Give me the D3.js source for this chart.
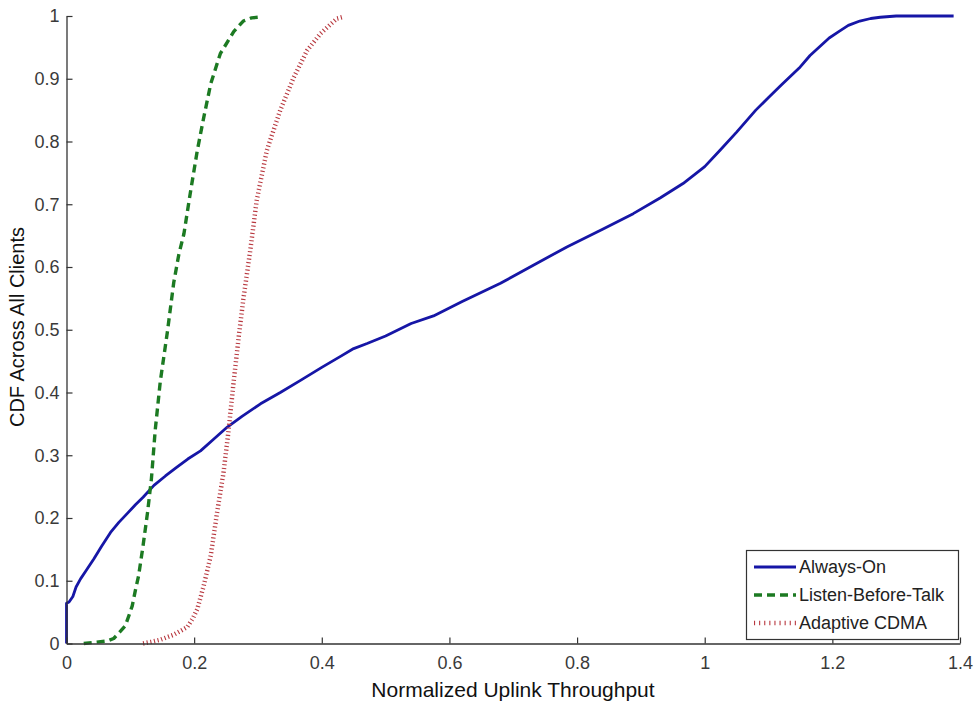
<!DOCTYPE html>
<html>
<head>
<meta charset="utf-8">
<script src="https://cdn.jsdelivr.net/npm/d3@7"></script>
<style>
  html, body { margin: 0; padding: 0; background: #fff; }
  svg { display: block; font-family: "Liberation Sans", Arial, sans-serif; }
</style>
</head>
<body>
<svg id="chart" width="974" height="702"></svg>
<script>
// CDF of normalized uplink throughput, one curve per scheme: [throughput, cdf]
const alwaysOn = [
  [0,0],[0,0.064],[0.004,0.066],[0.01,0.075],[0.015,0.09],[0.022,0.103],[0.03,0.115],
  [0.043,0.135],[0.055,0.155],[0.069,0.177],[0.082,0.193],[0.095,0.207],[0.108,0.221],
  [0.12,0.233],[0.137,0.252],[0.155,0.267],[0.173,0.281],[0.19,0.294],[0.21,0.307],
  [0.23,0.325],[0.252,0.345],[0.275,0.362],[0.304,0.382],[0.335,0.400],[0.366,0.419],
  [0.40,0.44],[0.43,0.458],[0.45,0.47],[0.471,0.478],[0.50,0.49],[0.54,0.51],[0.575,0.522],
  [0.62,0.545],[0.68,0.574],[0.73,0.602],[0.784,0.632],[0.84,0.66],[0.888,0.685],
  [0.93,0.71],[0.966,0.733],[1.0,0.76],[1.024,0.786],[1.05,0.815],[1.08,0.85],[1.1,0.87],
  [1.12,0.89],[1.148,0.917],[1.165,0.937],[1.18,0.951],[1.195,0.965],[1.21,0.975],
  [1.225,0.985],[1.243,0.992],[1.26,0.996],[1.275,0.998],[1.3,1.0],[1.39,1.0]
];
const listenBeforeTalk = [
  [0.027,0],[0.045,0.002],[0.064,0.004],[0.074,0.008],[0.085,0.02],[0.092,0.028],
  [0.098,0.045],[0.103,0.06],[0.108,0.085],[0.113,0.108],[0.12,0.156],[0.127,0.209],
  [0.133,0.262],[0.139,0.34],[0.147,0.418],[0.158,0.496],[0.168,0.575],[0.176,0.62],
  [0.184,0.653],[0.194,0.718],[0.205,0.786],[0.215,0.838],[0.226,0.892],[0.241,0.94],
  [0.262,0.975],[0.277,0.992],[0.29,0.997],[0.30,0.998]
];
const adaptiveCdma = [
  [0.12,0],[0.135,0.003],[0.147,0.006],[0.168,0.014],[0.189,0.026],[0.198,0.04],
  [0.205,0.055],[0.215,0.092],[0.226,0.14],[0.236,0.209],[0.246,0.272],[0.254,0.34],
  [0.262,0.418],[0.27,0.49],[0.277,0.548],[0.288,0.627],[0.298,0.706],[0.314,0.786],
  [0.335,0.85],[0.356,0.902],[0.377,0.945],[0.398,0.972],[0.415,0.988],[0.424,0.996],
  [0.435,0.999]
];

const seriesNames = ["Always-On", "Listen-Before-Talk", "Adaptive CDMA"];
const xTicks = [0, 0.2, 0.4, 0.6, 0.8, 1, 1.2, 1.4];
const yTicks = [0, 0.1, 0.2, 0.3, 0.4, 0.5, 0.6, 0.7, 0.8, 0.9, 1];
const xTitle = "Normalized Uplink Throughput";
const yTitle = "CDF Across All Clients";

const svg = d3.select("#chart");
const x = d3.scaleLinear().domain([0, 1.4]).range([66.5, 960]);
const y = d3.scaleLinear().domain([0, 1]).range([643.5, 16]);

const styles = [
  { data: alwaysOn, color: "#1616a6", width: 2.8, dash: null },
  { data: listenBeforeTalk, color: "#1c7a22", width: 3.4, dash: "8,5" },
  { data: adaptiveCdma, color: "#b8383f", width: 4.5, dash: "1.1,2.6" }
];

const line = d3.line().x(d => x(d[0])).y(d => y(d[1]));

// curves
styles.forEach(s => {
  svg.append("path")
    .datum(s.data)
    .attr("fill", "none")
    .attr("stroke", s.color)
    .attr("stroke-width", s.width)
    .attr("stroke-dasharray", s.dash)
    .attr("stroke-linejoin", "round")
    .attr("d", line);
});

// axes with inward ticks
const xAxis = d3.axisBottom(x).tickValues(xTicks).tickSizeInner(-6).tickSizeOuter(0)
  .tickPadding(13).tickFormat(d => d3.format("")(d));
const yAxis = d3.axisLeft(y).tickValues(yTicks).tickSizeInner(-6).tickSizeOuter(0)
  .tickPadding(7).tickFormat(d => d3.format("")(d));

const gx = svg.append("g").attr("transform", `translate(0,${y(0)})`).call(xAxis);
const gy = svg.append("g").attr("transform", `translate(${x(0)},0)`).call(yAxis);
[gx, gy].forEach(g => {
  g.select(".domain").attr("stroke", "#333").attr("stroke-width", 1.3);
  g.selectAll(".tick line").attr("stroke", "#333").attr("stroke-width", 1.2);
  g.selectAll(".tick text").attr("fill", "#3a3a3a").style("font-size", "18px")
    .style("font-family", "'Liberation Sans', Arial, sans-serif");
});

// axis titles
svg.append("text")
  .attr("x", 513).attr("y", 697)
  .attr("text-anchor", "middle")
  .style("font-size", "21px").attr("fill", "#111")
  .text(xTitle);
svg.append("text")
  .attr("transform", "translate(24,327) rotate(-90)")
  .attr("text-anchor", "middle")
  .style("font-size", "20px").attr("fill", "#111")
  .text(yTitle);

// legend
const lg = svg.append("g");
lg.append("rect")
  .attr("x", 746.5).attr("y", 550.5).attr("width", 212).attr("height", 89)
  .attr("fill", "#fff").attr("stroke", "#333").attr("stroke-width", 1.2);
seriesNames.forEach((name, i) => {
  const cy = 567 + i * 28;
  lg.append("line")
    .attr("x1", 754).attr("x2", 796).attr("y1", cy).attr("y2", cy)
    .attr("stroke", styles[i].color)
    .attr("stroke-width", i === 2 ? 4.5 : (i === 1 ? 3.5 : 2.8))
    .attr("stroke-dasharray", i === 1 ? "8,5" : (i === 2 ? "1.1,4" : null));
  lg.append("text")
    .attr("x", 799).attr("y", cy).attr("dy", "0.35em")
    .style("font-size", "18px").attr("fill", "#222")
    .text(name);
});
</script>
</body>
</html>
